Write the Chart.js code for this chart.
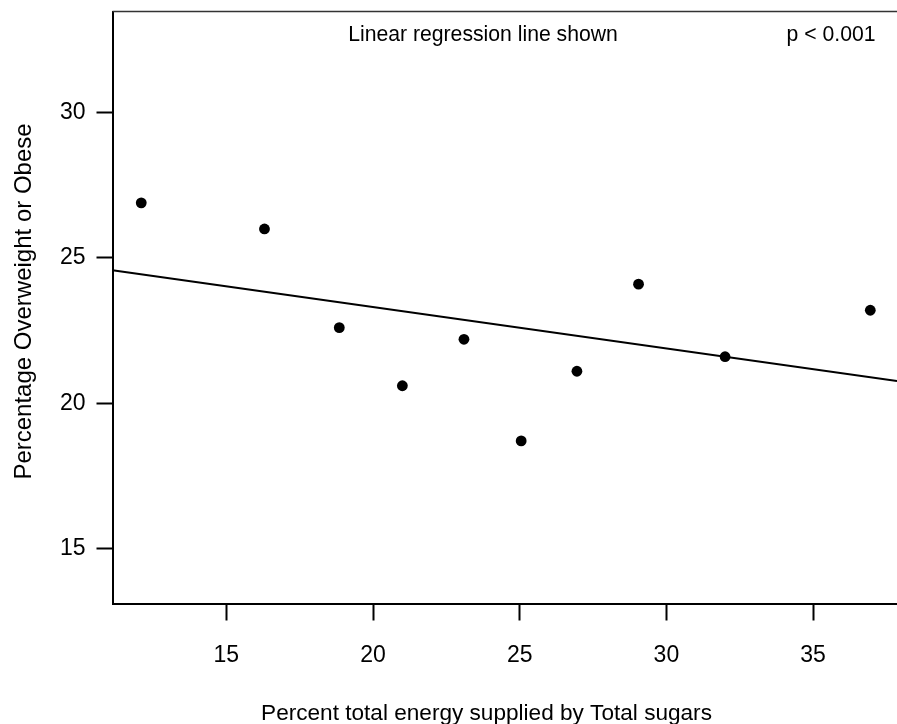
<!DOCTYPE html>
<html>
<head>
<meta charset="utf-8">
<script src="https://cdn.jsdelivr.net/npm/chart.js@4/dist/chart.umd.min.js"></script>
<style>
  html, body { margin: 0; padding: 0; background: #fff; }
  canvas { display: block; }
</style>
</head>
<body>
<canvas id="c" width="897" height="724"></canvas>
<script>
// Percent of energy from total sugars (x) vs. percentage overweight or obese (y)
const sugarShare = [12.1, 16.3, 18.85, 21.0, 23.1, 25.05, 26.95, 29.05, 32.0, 36.95];
const overweightPct = [26.9, 26.0, 22.6, 20.6, 22.2, 18.7, 21.1, 24.1, 21.6, 23.2];

// Fitted linear regression line, evaluated at the two ends of the x range
const fitX = [11.12, 37.86];
const fitY = [24.58, 20.76];

// Axis ranges and tick labels
const xRange = [11.12, 37.86];
const yRange = [13.1, 33.49];
const xTicks = [15, 20, 25, 30, 35];
const yTicks = [15, 20, 25, 30];

const xTitle = 'Percent total energy supplied by Total sugars';
const yTitle = 'Percentage Overweight or Obese';
const noteFit = 'Linear regression line shown';
const notePValue = 'p < 0.001';

const FONT = "'Liberation Sans', Arial, Helvetica, sans-serif";

const points = sugarShare.map((x, i) => ({ x, y: overweightPct[i] }));
const fitLine = fitX.map((x, i) => ({ x, y: fitY[i] }));

// Top frame line, axis titles and the two text notes inside the plot
const framePlugin = {
  id: 'frameAndNotes',
  afterDraw(chart) {
    const { ctx, chartArea } = chart;
    ctx.save();
    ctx.strokeStyle = '#333';
    ctx.lineWidth = 1.5;
    ctx.beginPath();
    ctx.moveTo(chartArea.left, chartArea.top);
    ctx.lineTo(chartArea.right, chartArea.top);
    ctx.stroke();

    ctx.fillStyle = '#000';
    ctx.font = '21.2px ' + FONT;
    ctx.textBaseline = 'alphabetic';
    ctx.textAlign = 'center';
    ctx.fillText(noteFit, 483, 40.5);
    ctx.textAlign = 'right';
    ctx.fillText(notePValue, 875.5, 40.5);

    // x-axis title
    ctx.font = '22.6px ' + FONT;
    ctx.textAlign = 'center';
    ctx.fillText(xTitle, 486.5, 719.5);

    // y-axis title, rotated
    ctx.font = '24px ' + FONT;
    ctx.translate(31, 301.5);
    ctx.rotate(-Math.PI / 2);
    ctx.fillText(yTitle, 0, 0);
    ctx.restore();
  }
};

function noScalePadding(scale) {
  scale.paddingTop = 0;
  scale.paddingBottom = 0;
  scale.paddingLeft = 0;
  scale.paddingRight = 0;
}

new Chart(document.getElementById('c'), {
  type: 'scatter',
  data: {
    datasets: [
      {
        label: 'Countries',
        data: points,
        pointRadius: 5.4,
        pointHoverRadius: 5.4,
        pointBackgroundColor: '#000',
        pointBorderColor: '#000',
        pointBorderWidth: 0,
        showLine: false
      },
      {
        label: 'Regression',
        type: 'line',
        data: fitLine,
        borderColor: '#000',
        borderWidth: 2,
        pointRadius: 0,
        fill: false,
        tension: 0
      }
    ]
  },
  options: {
    responsive: false,
    animation: false,
    devicePixelRatio: 1,
    layout: { autoPadding: false, padding: { top: 11.5, right: 0, bottom: 0, left: 0 } },
    plugins: {
      legend: { display: false },
      tooltip: { enabled: false },
      title: { display: false }
    },
    scales: {
      x: {
        type: 'linear',
        position: 'bottom',
        min: xRange[0],
        max: xRange[1],
        afterBuildTicks(scale) { scale.ticks = xTicks.map(v => ({ value: v })); },
        afterFit(scale) { scale.height = 120.5; noScalePadding(scale); },
        grid: {
          drawOnChartArea: false,
          drawTicks: true,
          tickLength: 17,
          tickWidth: 2,
          tickColor: '#000'
        },
        border: { display: true, color: '#000', width: 2 },
        ticks: {
          color: '#000',
          padding: 21,
          maxRotation: 0,
          font: { family: FONT, size: 23 }
        },
        title: { display: false }
      },
      y: {
        type: 'linear',
        position: 'left',
        min: yRange[0],
        max: yRange[1],
        afterBuildTicks(scale) { scale.ticks = yTicks.map(v => ({ value: v })); },
        afterFit(scale) { scale.width = 112.5; noScalePadding(scale); },
        grid: {
          drawOnChartArea: false,
          drawTicks: true,
          tickLength: 16,
          tickWidth: 2,
          tickColor: '#000'
        },
        border: { display: true, color: '#000', width: 2 },
        ticks: {
          color: '#000',
          padding: 11,
          font: { family: FONT, size: 23 }
        },
        title: { display: false }
      }
    }
  },
  plugins: [framePlugin]
});
</script>
</body>
</html>
